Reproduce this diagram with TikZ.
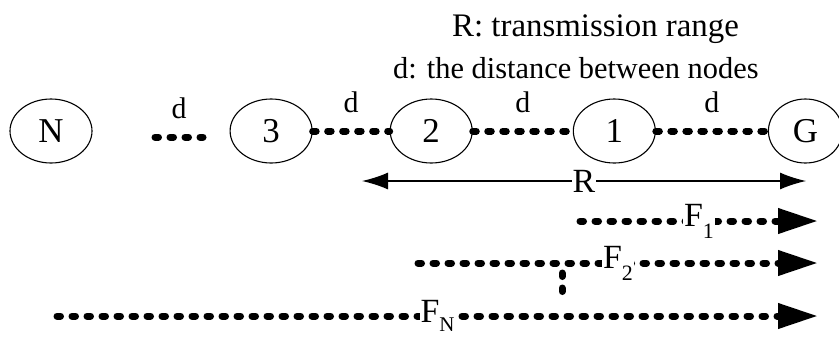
\documentclass[tikz,border=0pt]{standalone}
\usepackage{fontspec}
\setmainfont{Liberation Serif}
\usetikzlibrary{arrows.meta,positioning,calc,shapes.geometric}

\begin{document}
\begin{tikzpicture}[x=1bp,y=-1bp,>={Latex[length=26bp,width=17bp]},node distance=77bp,
    station/.style={draw,ellipse,line width=1.1bp,minimum width=82bp,minimum height=64bp,inner sep=0pt,font=\fontsize{35}{38}\selectfont},
    hop/.style={line width=7bp,dash pattern=on 3.5bp off 11.5bp,line cap=round},
    flow/.style={hop,-{Triangle[length=40bp,width=24bp]}},
    dlbl/.style={above=15bp,inner sep=0pt,font=\fontsize{30}{32}\selectfont},
    lbl/.style={inner sep=1bp,fill=white,font=\fontsize{34}{36}\selectfont},
    key/.style={anchor=base west,inner sep=0pt,font=\fontsize{33}{38}\selectfont}]
    \useasboundingbox (0,0) rectangle (839,337);
    \node[key] (key1) at (452,36) {R: transmission range};
    \node[key,font=\fontsize{30.5}{36}\selectfont] (key2) at (393,78) {d: the distance between nodes};
    \node[station] (n) at (51,131) {N};
    \node[station,right=137bp of n] (n3) {3};
    \node[station,right=of n3] (n2) {2};
    \node[station,right=100bp of n2] (n1) {1};
    \node[station,minimum width=74bp,right=112bp of n1] (g) {G};
    \coordinate (gapl) at (155,137);
    \coordinate (gapr) at (203,137);
    \draw[hop] (gapl) -- node[dlbl] {d} (gapr);
    \draw[hop] (n3) -- node[dlbl] {d} (n2);
    \draw[hop] (n2) -- node[dlbl] {d} (n1);
    \draw[hop] (n1) -- node[dlbl] {d} (g);
    % range and flows
    \coordinate (rl) at (362,181);
    \coordinate (rr) at (806,181);
    \draw[<->,line width=1.3bp] (rl) -- node[lbl] {R} (rr);
    \coordinate (f1) at (580,221);
    \coordinate (t1) at (818,221);
    \coordinate (f2) at (418,263);
    \coordinate (t2) at (818,263);
    \coordinate (fn) at (57,316);
    \coordinate (tn) at (818,316);
    \draw[flow] (f1) -- node[lbl] {F\raisebox{-.35em}{\fontsize{22}{22}\selectfont 1}} (t1);
    \draw[flow] (f2) -- node[lbl] {F\raisebox{-.35em}{\fontsize{22}{22}\selectfont 2}} (t2);
    \draw[flow] (fn) -- node[lbl] {F\raisebox{-.28em}{\fontsize{21}{21}\selectfont N}} (tn);
    \coordinate (vt) at (562,273);
    \coordinate (vb) at (562,299);
    \draw[hop] (vt) -- (vb);
  \end{tikzpicture}
\end{document}
